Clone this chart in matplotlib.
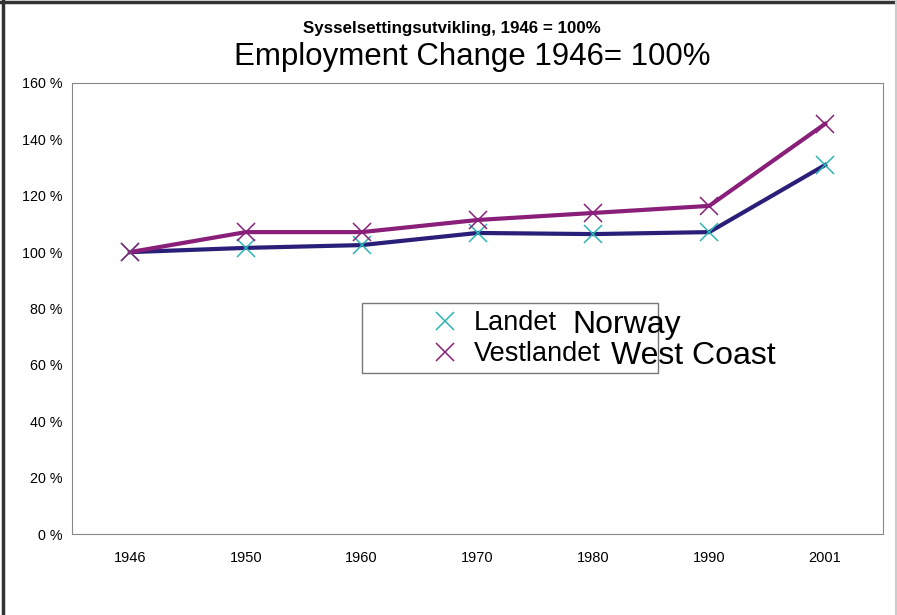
import matplotlib

matplotlib.use("Agg")
import matplotlib.pyplot as plt
from matplotlib.lines import Line2D
import numpy as np

plt.rcParams["font.family"] = ["Liberation Sans", "DejaVu Sans"]

years = ["1946", "1950", "1960", "1970", "1980", "1990", "2001"]
landet = [100, 101.5, 102.5, 106.8, 106.4, 107.1, 130.9]
vestlandet = [100, 107.1, 107.1, 111.4, 113.9, 116.4, 145.5]
yticks = [0, 20, 40, 60, 80, 100, 120, 140, 160]

W, H = 897, 615
fig = plt.figure(figsize=(W / 100, H / 100), dpi=100)
ax = fig.add_axes([72 / W, 1 - 534 / H, 811 / W, 451 / H])

x = np.arange(len(years))
ax.plot(x, landet, color="#2a1f78", lw=3, zorder=2)
ax.plot(x, vestlandet, color="#8a1f7a", lw=3, zorder=3)
ax.plot(x, landet, ls="none", marker="x", ms=13, mew=1.1, color="#2bb5b5", zorder=4)
ax.plot(x, vestlandet, ls="none", marker="x", ms=13, mew=1.1, color="#8a1f7a", zorder=4)

ax.set_xlim(-0.5, len(years) - 0.5)
ax.set_ylim(0, 160)
ax.set_xticks(x)
ax.set_xticklabels(years, fontsize=10.5)
ax.set_yticks(yticks)
ax.set_yticklabels([f"{v} %" for v in yticks], fontsize=10.3)
ax.tick_params(length=0)
ax.tick_params(axis="y", pad=7)
ax.tick_params(axis="x", pad=12)
for s in ax.spines.values():
    s.set_color("#888888")
    s.set_linewidth(0.8)

# legend box (markers only) with the English names written over it
fig.patches.append(plt.Rectangle((362 / W, 1 - 373 / H), 296 / W, 70 / H,
                                 transform=fig.transFigure, facecolor="white",
                                 edgecolor="#777777", lw=1, zorder=5))
handles = [
    Line2D([], [], ls="none", marker="x", ms=13, mew=1.1, color="#2bb5b5"),
    Line2D([], [], ls="none", marker="x", ms=13, mew=1.1, color="#8a1f7a"),
]
leg = fig.legend(handles, ["Landet", "Vestlandet"], loc="upper left",
                 bbox_to_anchor=(431.5 / W, 1 - 310 / H), frameon=False,
                 fontsize=19.5, handletextpad=0.57, labelspacing=0.2,
                 handlelength=1.0, borderpad=0, borderaxespad=0)
leg.set_zorder(6)
fig.text(572 / W, 1 - 325 / H, "Norway", fontsize=23, va="center", zorder=7)
fig.text(611 / W, 1 - 356 / H, "West Coast", fontsize=23, va="center", zorder=7)

fig.text(452 / W, 1 - 28 / H, "Sysselsettingsutvikling, 1946 = 100%",
         ha="center", va="center", fontsize=12.2, fontweight="bold")
fig.text(472 / W, 1 - 57 / H, "Employment Change 1946= 100%",
         ha="center", va="center", fontsize=22.5)

# outer frame
fig.add_artist(Line2D([2.5 / W, 2.5 / W], [0, 1], color="#333333", lw=2.5))
fig.add_artist(Line2D([0, 1], [1 - 1.5 / H, 1 - 1.5 / H], color="#333333", lw=2.5))
fig.add_artist(Line2D([895.5 / W, 895.5 / W], [0, 1], color="#cccccc", lw=1.5))

fig.savefig("out.png", dpi=100, facecolor="white")
